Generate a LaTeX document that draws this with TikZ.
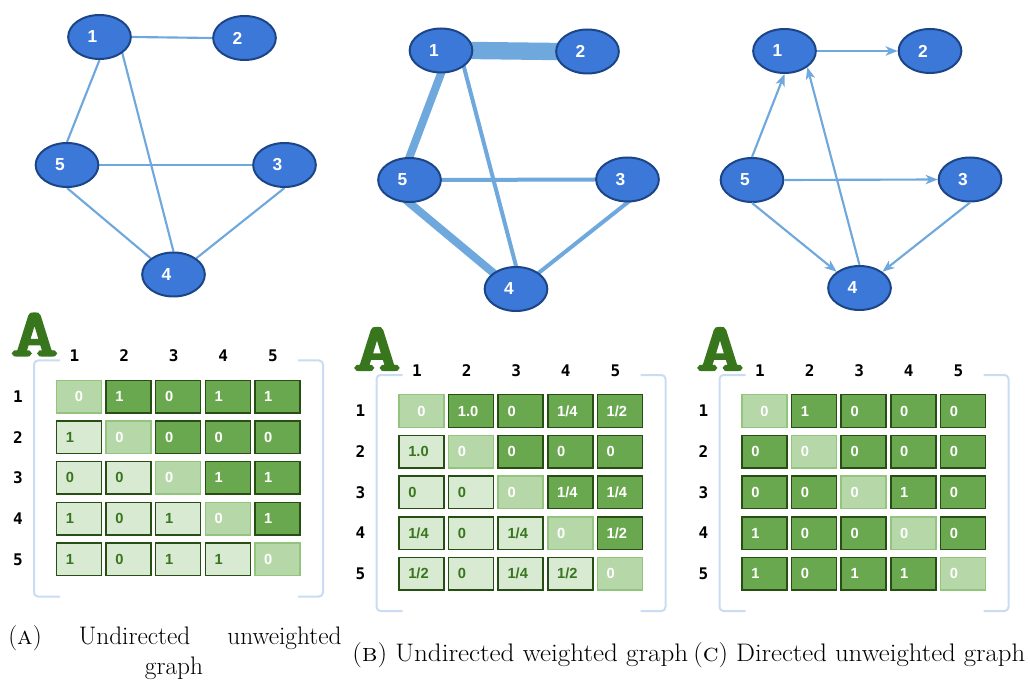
\documentclass[tikz,border=0pt]{standalone}
\usepackage{fontspec}
\usepackage{graphicx}
\usetikzlibrary{shapes.geometric,arrows.meta,backgrounds}
\setsansfont{Liberation Sans}
\newfontfamily\hdrfont{DejaVu Sans Mono Bold}
\newfontfamily\bigAfont{Latin Modern Mono}[FakeBold=4]
\definecolor{nodeblue}{HTML}{3C78D8}
\definecolor{nodeedge}{HTML}{1C4587}
\definecolor{linkblue}{HTML}{6FA8DC}
\definecolor{darkgreen}{HTML}{6AA84F}
\definecolor{darkline}{HTML}{274E13}
\definecolor{lightgreen}{HTML}{D9EAD3}
\definecolor{midgreen}{HTML}{B6D7A8}
\definecolor{midline}{HTML}{93C47D}
\definecolor{textgreen}{HTML}{38761D}
\definecolor{bracketblue}{HTML}{C9DCF2}
\tikzset{
  gnode/.style={ellipse, draw=nodeedge, fill=nodeblue, line width=1.5pt, minimum width=47pt, minimum height=33pt, inner sep=0pt, text=white, font=\sffamily\bfseries\fontsize{13}{13}\selectfont},
  link/.style={draw=linkblue, line width=1.6pt},
  wlink/.style={link, shorten <=-4pt, shorten >=-4pt},
  arc/.style={link, -{Stealth[length=9pt,width=7pt,inset=2.5pt]}},
  cell/.style={rectangle, line width=1.1pt, minimum height=24.4pt, inner xsep=7pt, inner ysep=0pt, text width=19.75pt, align=left, font=\sffamily\bfseries\fontsize{11}{11}\selectfont},
  cdark/.style={cell, draw=darkline, fill=darkgreen, text=white},
  clight/.style={cell, draw=darkline, fill=lightgreen, text=textgreen},
  cdiag/.style={cell, draw=midline, fill=midgreen, text=white},
  cfirst/.style={cdiag, align=center},
  hdr/.style={font=\hdrfont\fontsize{12}{12}\selectfont, inner sep=0pt},
  brk/.style={draw=bracketblue, line width=1.5pt, rounded corners=3pt},
  capt/.style={font=\fontsize{19}{19}\selectfont, inner sep=0pt}
}
\newcommand\gl[1]{\makebox[18pt][l]{#1}}
% #1 name, #2 centre of cell 1-1, #3 directed (1) or not (0), #4 rows
\newcommand\adjmat[4]{%
\begin{scope}[shift={#2}]
  \node[text=textgreen, font=\bigAfont\fontsize{50}{50}\selectfont, inner sep=0pt] (#1-A) at (-44.5,-62) {\scalebox{1.35}[1]{A}};
  \draw[brk] (-19,-36) -- (-45,-36) -- (-45,200) -- (-19,200);
  \draw[brk] (219,-36) -- (244,-36) -- (244,200) -- (219,200);
  \foreach \i in {1,...,5} {
    \node[hdr] (#1-c\i) at ({(\i-1)*49.6-4.5},-40.5) {\i};
    \node[hdr] (#1-r\i) at (-61,{(\i-1)*40.7}) {\i};
  }
  \foreach \row [count=\r] in {#4} {
    \foreach \v [count=\c] in \row {
      \ifnum\c=\r \def\cs{cdiag}\else
        \ifnum#3=1 \def\cs{cdark}\else
          \ifnum\c>\r \def\cs{cdark}\else \def\cs{clight}\fi\fi\fi
      \ifnum\r\c=11 \def\cs{cfirst}\fi
      \node[\cs] (#1-\r-\c) at ({(\c-1)*49.6},{(\r-1)*40.7}) {\v};
    }
  }
\end{scope}}
\begin{document}
\begin{tikzpicture}[x=0.75pt, y=-0.75pt]
\useasboundingbox (0,0) rectangle (1030,680);

% (a) undirected unweighted
\node[gnode] (a1) at (99.5,37) {\gl{1}};
\node[gnode] (a2) at (244.5,38) {\gl{2}};
\node[gnode] (a5) at (67,165) {\gl{5}};
\node[gnode] (a3) at (284.5,165) {\gl{3}};
\node[gnode] (a4) at (173.5,274.5) {\gl{4}};
\begin{scope}[on background layer]
\draw[link] (a1.east) -- (a2.west);
\draw[link] (a1.south) -- (a5.north);
\draw[link] (a1.south east) -- (a4.north);
\draw[link] (a5.east) -- (a3.west);
\draw[link] (a5.south) -- (a4.north west);
\draw[link] (a3.south) -- (a4.north east);
\end{scope}

% (b) undirected weighted
\node[gnode] (b1) at (441,50.5) {\gl{1}};
\node[gnode] (b2) at (587.5,51.5) {\gl{2}};
\node[gnode] (b5) at (409.5,180) {\gl{5}};
\node[gnode] (b3) at (627.5,179.5) {\gl{3}};
\node[gnode] (b4) at (516,289) {\gl{4}};
\begin{scope}[on background layer]
\draw[wlink, line width=13pt] (b1.east) -- (b2.west); % 1.0
\draw[wlink, line width=6pt] (b1.south) -- (b5.north); % 1/2
\draw[wlink, line width=3pt] (b1.south east) -- (b4.north); % 1/4
\draw[wlink, line width=3pt] (b5.east) -- (b3.west); % 1/4
\draw[wlink, line width=6pt] (b5.south) -- (b4.north west); % 1/2
\draw[wlink, line width=3pt] (b3.south) -- (b4.north east); % 1/4
\end{scope}

% (c) directed unweighted
\node[gnode] (c1) at (784.5,51) {\gl{1}};
\node[gnode] (c2) at (930,51) {\gl{2}};
\node[gnode] (c5) at (752,180) {\gl{5}};
\node[gnode] (c3) at (970,179.5) {\gl{3}};
\node[gnode] (c4) at (859.5,288) {\gl{4}};
\draw[arc] (c1.east) -- (c2.west);
\draw[arc] (c5.north) -- (c1.south);
\draw[arc] (c4.north) -- (c1.south east);
\draw[arc] (c5.east) -- (c3.west);
\draw[arc] (c5.south) -- (c4.north west);
\draw[arc] (c3.south) -- (c4.north east);

% adjacency matrices
\adjmat{ma}{(79,396.5)}{0}{{0,1,0,1,1},{1,0,0,0,0},{0,0,0,1,1},{1,0,1,0,1},{1,0,1,1,0}}
\adjmat{mb}{(421.5,411)}{0}{{0,1.0,0,1/4,1/2},{1.0,0,0,0,0},{0,0,0,1/4,1/4},{1/4,0,1/4,0,1/2},{1/2,0,1/4,1/2,0}}
\adjmat{mc}{(764.5,411)}{1}{{0,1,0,0,0},{0,0,0,0,0},{0,0,0,1,0},{1,0,0,0,0},{1,0,1,1,0}}

% captions
\node[capt, anchor=base west] (capa) at (8,644) {\makebox[250pt][s]{(\textsc{a}) Undirected unweighted}};
\node[capt, anchor=base] (capa2) at (174,674) {\resizebox{!}{\height}{graph}};
\node[capt, anchor=base west] (capb) at (352,661) {\resizebox{252pt}{\height}{(\textsc{b}) Undirected weighted graph}};
\node[capt, anchor=base west] (capc) at (693,661) {\resizebox{249pt}{\height}{(\textsc{c}) Directed unweighted graph}};
\end{tikzpicture}
\end{document}
